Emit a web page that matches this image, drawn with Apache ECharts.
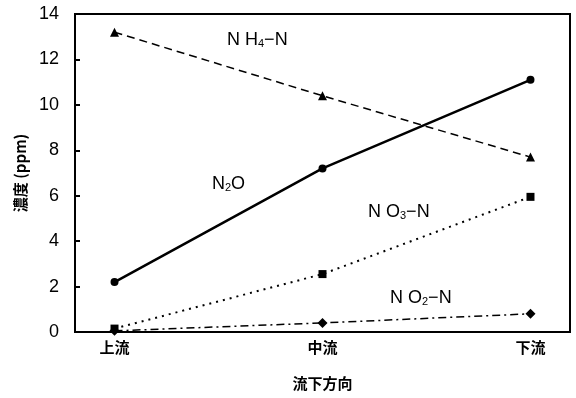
<!DOCTYPE html>
<html><head><meta charset="utf-8">
<script src="https://cdn.jsdelivr.net/npm/echarts@6/dist/echarts.min.js"></script>
<style>html,body{margin:0;padding:0;background:#fff}#c{width:576px;height:398px}</style>
</head><body><div id="c"></div>
<script>
var categories = ['上流', '中流', '下流'];
var yTicks = [0, 2, 4, 6, 8, 10, 12, 14];
var nh4 = [13.2, 10.4, 7.7];
var n2o = [2.2, 7.2, 11.1];
var no3 = [0.15, 2.55, 5.95];
var no2 = [0.05, 0.4, 0.8];

function pts(arr) { return arr.map(function (v, i) { return [i, v]; }); }
var numFont = '"Liberation Sans Narrow", "Liberation Sans", Arial, sans-serif';
var cjkFont = '"Noto Sans CJK JP", sans-serif';

var chart = echarts.init(document.getElementById('c'));
var rich = {
  b: { fontSize: 18, fontFamily: '"Liberation Sans", Arial, sans-serif', color: '#000' },
  s: { fontSize: 11, fontFamily: '"Liberation Sans", Arial, sans-serif', color: '#000', verticalAlign: 'bottom', padding: [8, 0, 0, 0] }
};
function ann(x, y, parts) {
  return { type: 'text', left: x, top: y, z: 10, style: { text: parts, rich: rich, fill: '#000' } };
}
chart.setOption({
  animation: false,
  grid: { left: 75, right: 6, top: 14, bottom: 66, show: true, borderColor: '#000', borderWidth: 2, backgroundColor: 'transparent' },
  xAxis: {
    type: 'value', min: -0.19, max: 2.19,
    name: '流下方向', nameLocation: 'middle', nameGap: 44,
    nameTextStyle: { fontFamily: cjkFont, fontSize: 15, fontWeight: 'bold', color: '#000' },
    axisLine: { onZero: false, lineStyle: { color: '#000', width: 2 } },
    axisTick: { show: false },
    splitLine: { show: false },
    axisLabel: {
      customValues: [0, 1, 2],
      formatter: function (v) { return categories[Math.round(v)] || ''; },
      fontFamily: cjkFont, fontSize: 15, fontWeight: 'bold', color: '#000', margin: 8
    }
  },
  yAxis: {
    type: 'value', min: 0, max: 14, interval: 2,
    name: '濃度 (ppm)', nameLocation: 'middle', nameGap: 44, nameRotate: 90,
    nameTextStyle: { fontFamily: cjkFont, fontSize: 15, fontWeight: 'bold', color: '#000' },
    axisLine: { show: true, onZero: false, lineStyle: { color: '#000', width: 2 } },
    axisTick: { show: true, inside: true, length: 5, lineStyle: { color: '#000', width: 2 } },
    splitLine: { show: false },
    axisLabel: {
      formatter: function (v) { return yTicks.indexOf(v) >= 0 ? String(v) : ''; },
      fontFamily: numFont, fontSize: 18, color: '#000', margin: 16
    }
  },
  series: [
    { name: 'NH4-N', type: 'line', data: pts(nh4), symbol: 'triangle', symbolSize: 9,
      itemStyle: { color: '#000' }, lineStyle: { color: '#000', width: 1.5, type: [8, 5] } },
    { name: 'N2O', type: 'line', data: pts(n2o), symbol: 'circle', symbolSize: 8,
      itemStyle: { color: '#000' }, lineStyle: { color: '#000', width: 2.5, type: 'solid' } },
    { name: 'NO3-N', type: 'line', data: pts(no3), symbol: 'rect', symbolSize: 8,
      itemStyle: { color: '#000' }, lineStyle: { color: '#000', width: 2, type: [2, 5] } },
    { name: 'NO2-N', type: 'line', data: pts(no2), symbol: 'diamond', symbolSize: 10,
      itemStyle: { color: '#000' }, lineStyle: { color: '#000', width: 1.5, type: [8, 4, 2, 4] } }
  ],
  graphic: [
    ann(227, 31, '{b|N H}{s|4}{b|−N}'),
    ann(212, 175, '{b|N}{s|2}{b|O}'),
    ann(368, 203, '{b|N O}{s|3}{b|−N}'),
    ann(390, 289, '{b|N O}{s|2}{b|−N}')
  ]
});
</script></body></html>
